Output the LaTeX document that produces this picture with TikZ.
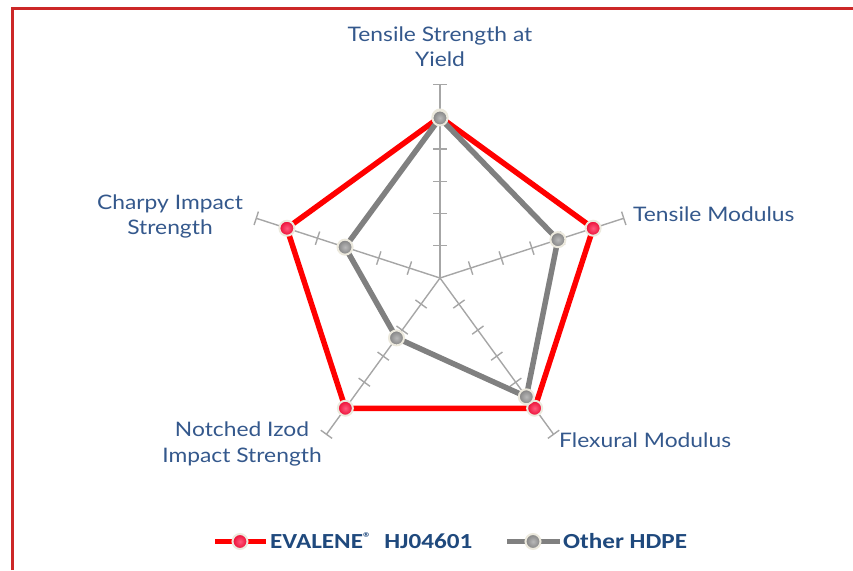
\documentclass[tikz,border=0pt]{standalone}
\usepackage{fontspec}
\setmainfont[FakeStretch=1.14]{Lato}
\newfontfamily\legfont[FakeStretch=1.17]{Carlito}
\definecolor{labelblue}{RGB}{52,88,140}
\definecolor{legblue}{RGB}{31,73,125}
\definecolor{framered}{RGB}{204,40,40}
\definecolor{axisgray}{RGB}{166,166,166}
\definecolor{seriesred}{RGB}{255,0,0}
\definecolor{seriesgray}{RGB}{128,128,128}
\definecolor{ringbeige}{RGB}{236,233,221}
\definecolor{dotred}{RGB}{235,10,50}
\definecolor{dotredlight}{RGB}{255,90,125}
\definecolor{dotgray}{RGB}{130,130,130}
\definecolor{dotgraylight}{RGB}{185,185,185}
\begin{document}
\begin{tikzpicture}[x=1pt,y=1pt,
  axisline/.style={draw=axisgray,line width=1.4pt},
  redline/.style={draw=seriesred,line width=5.5pt,line join=round},
  grayline/.style={draw=seriesgray,line width=5.5pt,line join=round},
  reddot/.style={circle,inner sep=0pt,minimum size=15pt,draw=ringbeige,line width=2pt,
    shading=radial,inner color=dotredlight,outer color=dotred},
  graydot/.style={circle,inner sep=0pt,minimum size=15pt,draw=ringbeige,line width=2pt,
    shading=radial,inner color=dotgraylight,outer color=dotgray},
  lbl/.style={font=\fontsize{20}{25.5}\selectfont,text=labelblue,align=center,inner sep=0pt},
  leg/.style={font=\legfont\bfseries\fontsize{21.5}{24}\selectfont,text=legblue,inner sep=0pt}
]
\useasboundingbox (0,0) rectangle (853,570);
% frame
\draw[framered,line width=3pt] (12,0) -- (12,561) -- (853,561);
\def\U{32.2}
% axes with ticks
\foreach \a in {90,18,-54,-126,162}{
  \begin{scope}[shift={(440,292)},rotate=\a]
    \draw[axisline] (0,0) -- (6*\U,0);
    \foreach \k in {1,...,6}{
      \draw[axisline] (\k*\U,-7) -- (\k*\U,7);
    }
  \end{scope}
}
% data points
\begin{scope}[shift={(440,292)}]
  \coordinate (r1) at (90:5*\U);
  \coordinate (r2) at (18:5*\U);
  \coordinate (r3) at (-54:5*\U);
  \coordinate (r4) at (-126:5*\U);
  \coordinate (r5) at (162:5*\U);
  \coordinate (g1) at (90:4.97*\U);
  \coordinate (g2) at (18:3.85*\U);
  \coordinate (g3) at (-54:4.56*\U);
  \coordinate (g4) at (-126:2.3*\U);
  \coordinate (g5) at (162:3.1*\U);
\end{scope}
\draw[redline] (r1) -- (r2) -- (r3) -- (r4) -- (r5) -- cycle;
\draw[grayline] (g1) -- (g2) -- (g3) -- (g4) -- (g5) -- cycle;
\foreach \i in {1,...,5}{ \node[reddot] (mr\i) at (r\i) {}; }
\foreach \i in {1,...,5}{ \node[graydot] (mg\i) at (g\i) {}; }
% axis labels (base anchor = baseline of last line)
\node[lbl,anchor=base] (lts) at (440,503) {Tensile Strength at\\Yield};
\node[lbl,anchor=base west] (ltm) at (633,348) {Tensile Modulus};
\node[lbl,anchor=base west] (lfm) at (559,122) {Flexural Modulus};
\node[lbl,anchor=base] (lni) at (242,108) {Notched Izod\\Impact Strength};
\node[lbl,anchor=base] (lci) at (170,335) {Charpy Impact\\Strength};
% legend
\draw[redline,line width=5pt] (215,28.5) -- (266,28.5);
\node[reddot] (lr) at (240,28.5) {};
\node[leg,anchor=base west] (lrt) at (270,21.7) {EVALENE\raisebox{6pt}{\fontsize{14}{14}\selectfont ®}\hspace{13pt}HJ04601};
\draw[grayline,line width=5pt] (507,28.5) -- (560,28.5);
\node[graydot] (lg) at (533,28.5) {};
\node[leg,anchor=base west] (lgt) at (563,21.7) {Other HDPE};
\end{tikzpicture}
\end{document}
